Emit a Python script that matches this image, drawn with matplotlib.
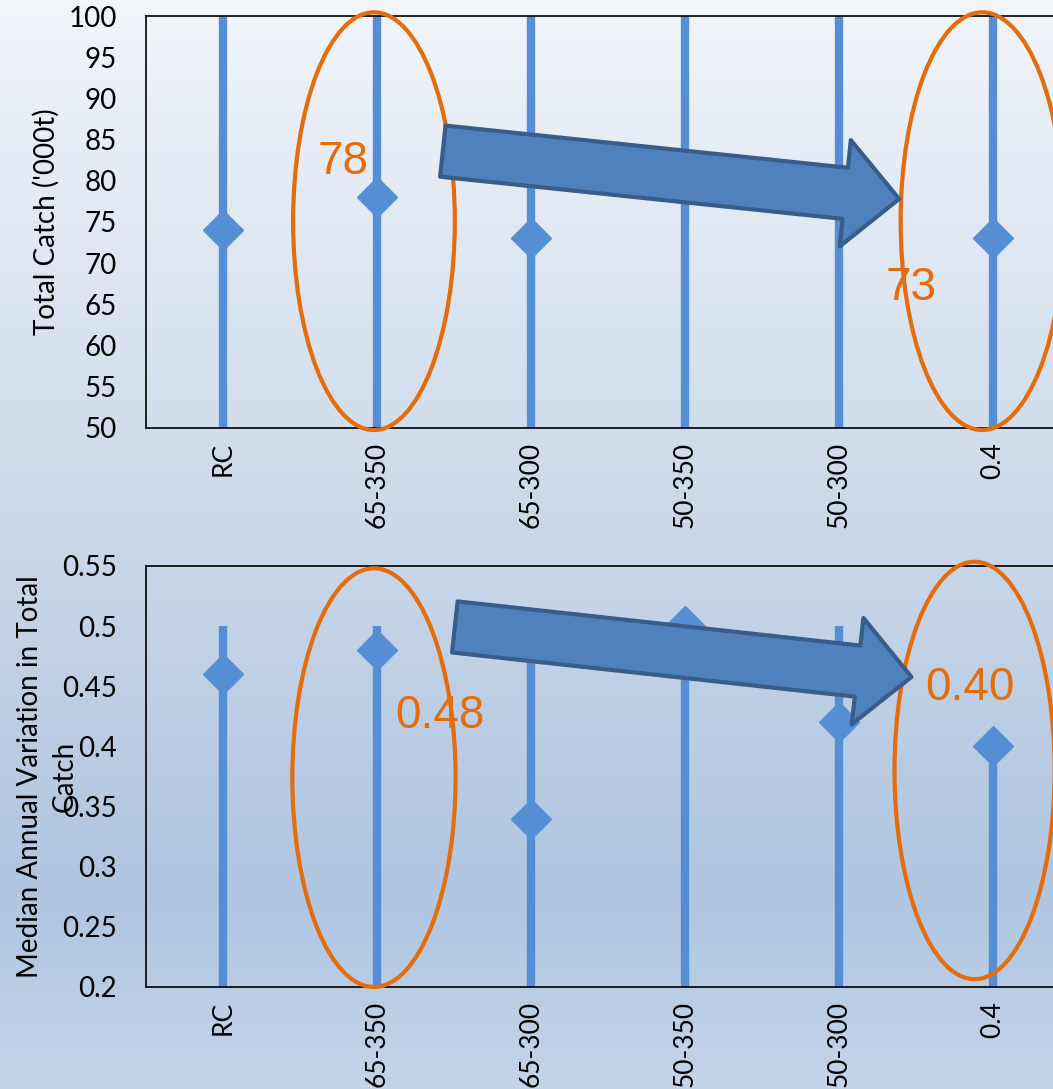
import numpy as np
import matplotlib.pyplot as plt
from matplotlib.patches import Ellipse
from matplotlib.colors import LinearSegmentedColormap

# datos
categories = ["RC", "65-350", "65-300", "50-350", "50-300", "0.4"]

catch_median = [74, 78, 73, 80.3, 79, 73]
catch_low = [50, 50, 50, 50, 50, 50]
catch_high = [100, 100, 100, 100, 100, 100]

aav_median = [0.46, 0.48, 0.34, 0.50, 0.42, 0.40]
aav_low = [0.2, 0.2, 0.2, 0.2, 0.2, 0.2]
aav_high = [0.5, 0.5, 0.5, 0.5, 0.5, 0.4]

blue = "#558ed5"
orange = "#e46c0a"
arrow_face = "#4f81bd"
arrow_edge = "#385d8a"

fig = plt.figure(figsize=(10.53, 10.89), dpi=100)

# fondo degradado
bg = fig.add_axes([0, 0, 1, 1], zorder=-5)
cmap = LinearSegmentedColormap.from_list(
    "bg", [(0.0, "#f2f5fa"), (0.5, "#c9d7e9"), (0.82, "#afc5e0"), (1.0, "#c2d4ea")])
grad = np.linspace(0, 1, 256).reshape(-1, 1)
bg.imshow(grad, cmap=cmap, aspect="auto", extent=[0, 1, 0, 1], origin="upper")
bg.axis("off")

x = np.arange(1, len(categories) + 1)


def draw_panel(ax, med, low, high, ylim, yticks):
    ax.set_facecolor("none")
    ax.vlines(x, low, high, color=blue, lw=6, capstyle="butt", zorder=2)
    ax.plot(x, med, "D", color=blue, ms=20, zorder=3)
    ax.set_xlim(0.5, 6.5)
    ax.set_ylim(*ylim)
    ax.set_yticks(yticks)
    ax.set_yticklabels(["%g" % t for t in yticks], fontsize=20, family="Lato")
    ax.set_xticks(x)
    ax.set_xticklabels(categories, rotation=90, fontsize=19, family="Lato", va="top")
    ax.tick_params(length=0)
    ax.tick_params(axis="y", pad=21)
    ax.tick_params(axis="x", pad=10)
    for s in ax.spines.values():
        s.set_linewidth(1.2)
        s.set_color("black")


ax1 = fig.add_axes([0.1387, 0.6070, 0.8775, 0.3783])
draw_panel(ax1, catch_median, catch_low, catch_high, (50, 100), np.arange(50, 101, 5))
ax1.set_ylabel("Total Catch ('000t)", fontsize=20, family="Lato")
ax1.yaxis.set_label_coords(-0.093, 0.5)

ax2 = fig.add_axes([0.1387, 0.0937, 0.8775, 0.3866])
draw_panel(ax2, aav_median, aav_low, aav_high, (0.2, 0.55), np.round(np.arange(0.2, 0.551, 0.05), 2))
ax2.set_ylabel("Median Annual Variation in Total\nCatch", fontsize=20, family="Lato",
               linespacing=1.4)
ax2.yaxis.set_label_coords(-0.074, 0.5)

# elipses de resaltado
for ax, cx, cy, w, h in [(ax1, 1.98, 75.1, 1.05, 50.7), (ax1, 5.93, 75.1, 1.06, 50.7),
                         (ax2, 1.98, 0.374, 1.06, 0.348), (ax2, 5.88, 0.380, 1.04, 0.347)]:
    ax.add_patch(Ellipse((cx, cy), w, h, fill=False, ec=orange, lw=3, clip_on=False, zorder=4))

# flechas
astyle = "simple,head_length=3.9,head_width=7.7,tail_width=3.7"
for ax, tail, tip in [(ax1, (2.427, 83.6), (5.39, 77.8)),
                      (ax2, (2.505, 0.4993), (5.47, 0.4577))]:
    ax.annotate("", xy=tip, xytext=tail, annotation_clip=False,
                arrowprops=dict(arrowstyle=astyle, mutation_scale=10, fc=arrow_face,
                                ec=arrow_edge, lw=3, shrinkA=0, shrinkB=0),
                zorder=5)

# etiquetas naranjas
for ax, tx, ty, s in [(ax1, 1.781, 82.9, "78"), (ax1, 5.468, 67.6, "73"),
                      (ax2, 2.407, 0.4295, "0.48"), (ax2, 5.851, 0.4527, "0.40")]:
    ax.text(tx, ty, s, color=orange, fontsize=33, family="Liberation Sans",
            ha="center", va="center_baseline", zorder=6, clip_on=False)

fig.savefig("out.png", dpi=100)
